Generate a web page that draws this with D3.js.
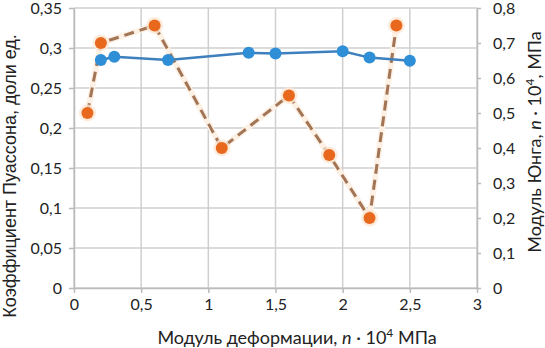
<!DOCTYPE html>
<html>
<head>
<meta charset="utf-8">
<script src="https://cdn.jsdelivr.net/npm/d3@7"></script>
<style>
  body { margin: 0; background: #fff; }
  text { font-family: Lato, "Open Sans", sans-serif; fill: #222; }
</style>
</head>
<body>
<svg id="chart" width="545" height="348"></svg>
<script>
// Poisson ratio (left axis), blue solid
const poissonX = [0.2, 0.3, 0.7, 1.3, 1.5, 2.0, 2.2, 2.5];
const poissonY = [0.285, 0.289, 0.285, 0.294, 0.293, 0.296, 0.288, 0.284];

// Young modulus (right axis), orange dashed
const youngX = [0.1, 0.2, 0.6, 1.1, 1.6, 1.9, 2.2, 2.4];
const youngY = [0.5, 0.7, 0.75, 0.4, 0.55, 0.38, 0.2, 0.75];

const xTicks = [0, 0.5, 1, 1.5, 2, 2.5, 3];
const leftTicks = [0, 0.05, 0.1, 0.15, 0.2, 0.25, 0.3, 0.35];
const rightTicks = [0, 0.1, 0.2, 0.3, 0.4, 0.5, 0.6, 0.7, 0.8];

const margin = { top: 8, left: 74 };

const fmt = v => String(+v.toFixed(2)).replace('.', ',');

const svg = d3.select('#chart');
const g = svg.append('g').attr('transform', 'translate(' + margin.left + ',' + margin.top + ')');

const x = d3.scaleLinear().domain([0, 3]).range([0, 403]);
const yL = d3.scaleLinear().domain([0, 0.35]).range([280, 0]);
const yR = d3.scaleLinear().domain([0, 0.8]).range([280, 0]);

const gridColor = '#cfcfcf';

// Grid
g.selectAll('.hgrid').data(leftTicks).enter().append('line')
    .attr('x1', 0).attr('x2', x(3))
    .attr('y1', d => yL(d)).attr('y2', d => yL(d))
    .attr('stroke', gridColor).attr('stroke-width', 1.5);
g.selectAll('.vgrid').data(xTicks).enter().append('line')
    .attr('x1', d => x(d)).attr('x2', d => x(d))
    .attr('y1', 0).attr('y2', yL(0))
    .attr('stroke', gridColor).attr('stroke-width', 1.5);

// Axes
function styleAxis(sel) {
    sel.selectAll('path, line').attr('stroke', '#bbb').attr('stroke-width', 1.5);
    sel.selectAll('text').style('font-size', '16px').attr('fill', '#222');
}

g.append('g').attr('transform', 'translate(0,' + yL(0) + ')')
    .call(d3.axisBottom(x).tickValues(xTicks).tickFormat(fmt).tickSize(5).tickSizeOuter(0).tickPadding(6))
    .call(styleAxis);

g.append('g')
    .call(d3.axisLeft(yL).tickValues(leftTicks).tickFormat(fmt).tickSize(5).tickSizeOuter(0).tickPadding(7))
    .call(styleAxis);

g.append('g').attr('transform', 'translate(' + x(3) + ',0)')
    .call(d3.axisRight(yR).tickValues(rightTicks).tickFormat(fmt).tickSize(4).tickSizeOuter(0).tickPadding(12))
    .call(styleAxis);

// Young modulus series
const youngData = youngX.map((d, i) => [d, youngY[i]]);
const youngLine = d3.line().x(d => x(d[0])).y(d => yR(d[1]));
g.append('path').datum(youngData)
    .attr('d', youngLine)
    .attr('fill', 'none')
    .attr('stroke', '#fdf0e4').attr('stroke-width', 6);
g.append('path').datum(youngData)
    .attr('d', youngLine)
    .attr('fill', 'none')
    .attr('stroke', '#a27556').attr('stroke-width', 3)
    .attr('stroke-dasharray', '10,6');
g.selectAll('.yhalo').data(youngData).enter().append('circle')
    .attr('cx', d => x(d[0])).attr('cy', d => yR(d[1]))
    .attr('r', 8.5).attr('fill', '#fce6d3').attr('opacity', 0.8);
g.selectAll('.ydot').data(youngData).enter().append('circle')
    .attr('cx', d => x(d[0])).attr('cy', d => yR(d[1]))
    .attr('r', 6).attr('fill', '#e8691e');

// Poisson series
const poissonData = poissonX.map((d, i) => [d, poissonY[i]]);
g.append('path').datum(poissonData)
    .attr('d', d3.line().x(d => x(d[0])).y(d => yL(d[1])))
    .attr('fill', 'none')
    .attr('stroke', '#3e7fbd').attr('stroke-width', 2.5);
g.selectAll('.pdot').data(poissonData).enter().append('circle')
    .attr('cx', d => x(d[0])).attr('cy', d => yL(d[1]))
    .attr('r', 6).attr('fill', '#2f8fd6');

// Titles
const bottomTitle = svg.append('text')
    .attr('x', 297).attr('y', 344)
    .attr('text-anchor', 'middle')
    .style('font-size', '18px');
bottomTitle.append('tspan').text('Модуль деформации, ');
bottomTitle.append('tspan').attr('font-style', 'italic').text('n');
bottomTitle.append('tspan').text(' · 10');
bottomTitle.append('tspan').attr('dy', -7).style('font-size', '12px').text('4');
bottomTitle.append('tspan').attr('dy', 7).text(' МПа');

svg.append('text')
    .attr('transform', 'translate(16,176) rotate(-90)')
    .attr('text-anchor', 'middle')
    .style('font-size', '18px')
    .style('font-family', '"Liberation Sans", Arial, sans-serif')
    .text('Коэффициент Пуассона, доли ед.');

const rightTitle = svg.append('text')
    .attr('transform', 'translate(541,142) rotate(-90)')
    .attr('text-anchor', 'middle')
    .style('font-size', '18px');
rightTitle.append('tspan').text('Модуль Юнга, ');
rightTitle.append('tspan').attr('font-style', 'italic').text('n');
rightTitle.append('tspan').text(' · 10');
rightTitle.append('tspan').attr('dy', -7).style('font-size', '12px').text('4');
rightTitle.append('tspan').attr('dy', 7).text(', МПа');
</script>
</body>
</html>
